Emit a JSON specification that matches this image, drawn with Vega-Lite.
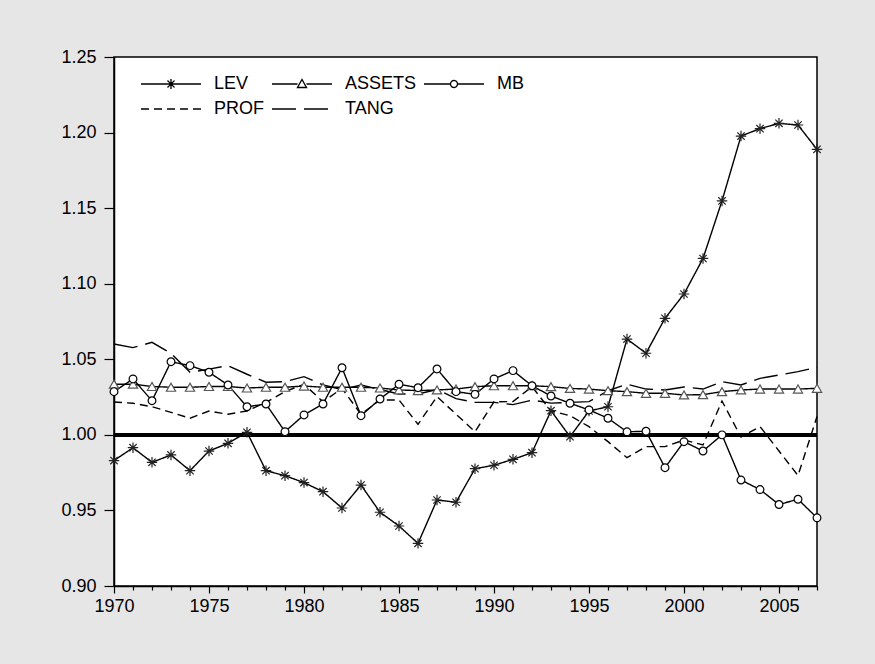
{
 "$schema": "https://vega.github.io/schema/vega-lite/v6.json",
 "width": 703, "height": 529,
 "autosize": {"type": "none"},
 "padding": {"left": 114, "top": 57, "right": 58, "bottom": 78},
 "background": "#e6e6e6",
 "config": {
  "view": {"fill": "white", "stroke": "black", "strokeWidth": 1.5},
  "font": "Liberation Sans",
  "axis": {"domainColor": "black", "domainWidth": 1.5, "tickColor": "black", "tickWidth": 1.2, "labelColor": "black", "labelFontSize": 18, "labelFont": "Liberation Sans", "grid": false, "title": null, "labelOverlap": false},
  "legend": {"labelFontSize": 18, "labelFont": "Liberation Sans", "labelColor": "black"}
 },
 "datasets": {
  "d": [
   {"year":1970,"series":"LEV","value":0.983},{"year":1971,"series":"LEV","value":0.9915},{"year":1972,"series":"LEV","value":0.9818},{"year":1973,"series":"LEV","value":0.9867},{"year":1974,"series":"LEV","value":0.9763},{"year":1975,"series":"LEV","value":0.9893},{"year":1976,"series":"LEV","value":0.9944},{"year":1977,"series":"LEV","value":1.0017},{"year":1978,"series":"LEV","value":0.9763},{"year":1979,"series":"LEV","value":0.973},{"year":1980,"series":"LEV","value":0.9684},{"year":1981,"series":"LEV","value":0.9624},{"year":1982,"series":"LEV","value":0.9516},{"year":1983,"series":"LEV","value":0.9668},{"year":1984,"series":"LEV","value":0.9488},{"year":1985,"series":"LEV","value":0.9397},{"year":1986,"series":"LEV","value":0.9282},{"year":1987,"series":"LEV","value":0.9569},{"year":1988,"series":"LEV","value":0.9554},{"year":1989,"series":"LEV","value":0.9776},{"year":1990,"series":"LEV","value":0.9799},{"year":1991,"series":"LEV","value":0.9838},{"year":1992,"series":"LEV","value":0.9882},{"year":1993,"series":"LEV","value":1.016},{"year":1994,"series":"LEV","value":0.9988},{"year":1995,"series":"LEV","value":1.0158},{"year":1996,"series":"LEV","value":1.0186},{"year":1997,"series":"LEV","value":1.0634},{"year":1998,"series":"LEV","value":1.054},{"year":1999,"series":"LEV","value":1.0771},{"year":2000,"series":"LEV","value":1.0932},{"year":2001,"series":"LEV","value":1.1167},{"year":2002,"series":"LEV","value":1.1548},{"year":2003,"series":"LEV","value":1.1977},{"year":2004,"series":"LEV","value":1.2026},{"year":2005,"series":"LEV","value":1.2061},{"year":2006,"series":"LEV","value":1.205},{"year":2007,"series":"LEV","value":1.1889},
   {"year":1970,"series":"ASSETS","value":1.0335},{"year":1971,"series":"ASSETS","value":1.0335},{"year":1972,"series":"ASSETS","value":1.032},{"year":1973,"series":"ASSETS","value":1.0315},{"year":1974,"series":"ASSETS","value":1.0315},{"year":1975,"series":"ASSETS","value":1.032},{"year":1976,"series":"ASSETS","value":1.032},{"year":1977,"series":"ASSETS","value":1.031},{"year":1978,"series":"ASSETS","value":1.0315},{"year":1979,"series":"ASSETS","value":1.0315},{"year":1980,"series":"ASSETS","value":1.0323},{"year":1981,"series":"ASSETS","value":1.0315},{"year":1982,"series":"ASSETS","value":1.0315},{"year":1983,"series":"ASSETS","value":1.0315},{"year":1984,"series":"ASSETS","value":1.031},{"year":1985,"series":"ASSETS","value":1.0297},{"year":1986,"series":"ASSETS","value":1.0293},{"year":1987,"series":"ASSETS","value":1.0297},{"year":1988,"series":"ASSETS","value":1.0303},{"year":1989,"series":"ASSETS","value":1.0319},{"year":1990,"series":"ASSETS","value":1.0325},{"year":1991,"series":"ASSETS","value":1.0325},{"year":1992,"series":"ASSETS","value":1.0325},{"year":1993,"series":"ASSETS","value":1.0319},{"year":1994,"series":"ASSETS","value":1.0307},{"year":1995,"series":"ASSETS","value":1.0303},{"year":1996,"series":"ASSETS","value":1.0292},{"year":1997,"series":"ASSETS","value":1.0286},{"year":1998,"series":"ASSETS","value":1.0275},{"year":1999,"series":"ASSETS","value":1.0275},{"year":2000,"series":"ASSETS","value":1.0264},{"year":2001,"series":"ASSETS","value":1.0266},{"year":2002,"series":"ASSETS","value":1.0286},{"year":2003,"series":"ASSETS","value":1.0297},{"year":2004,"series":"ASSETS","value":1.0303},{"year":2005,"series":"ASSETS","value":1.0303},{"year":2006,"series":"ASSETS","value":1.0303},{"year":2007,"series":"ASSETS","value":1.0308},
   {"year":1970,"series":"MB","value":1.0286},{"year":1971,"series":"MB","value":1.037},{"year":1972,"series":"MB","value":1.0226},{"year":1973,"series":"MB","value":1.0484},{"year":1974,"series":"MB","value":1.0458},{"year":1975,"series":"MB","value":1.0414},{"year":1976,"series":"MB","value":1.033},{"year":1977,"series":"MB","value":1.0186},{"year":1978,"series":"MB","value":1.0204},{"year":1979,"series":"MB","value":1.0021},{"year":1980,"series":"MB","value":1.0132},{"year":1981,"series":"MB","value":1.0204},{"year":1982,"series":"MB","value":1.0444},{"year":1983,"series":"MB","value":1.0127},{"year":1984,"series":"MB","value":1.0237},{"year":1985,"series":"MB","value":1.0335},{"year":1986,"series":"MB","value":1.0312},{"year":1987,"series":"MB","value":1.0436},{"year":1988,"series":"MB","value":1.0286},{"year":1989,"series":"MB","value":1.0268},{"year":1990,"series":"MB","value":1.037},{"year":1991,"series":"MB","value":1.0425},{"year":1992,"series":"MB","value":1.0325},{"year":1993,"series":"MB","value":1.0257},{"year":1994,"series":"MB","value":1.0209},{"year":1995,"series":"MB","value":1.0165},{"year":1996,"series":"MB","value":1.011},{"year":1997,"series":"MB","value":1.002},{"year":1998,"series":"MB","value":1.0024},{"year":1999,"series":"MB","value":0.9783},{"year":2000,"series":"MB","value":0.9955},{"year":2001,"series":"MB","value":0.9893},{"year":2002,"series":"MB","value":1.0},{"year":2003,"series":"MB","value":0.9701},{"year":2004,"series":"MB","value":0.9638},{"year":2005,"series":"MB","value":0.9539},{"year":2006,"series":"MB","value":0.9574},{"year":2007,"series":"MB","value":0.9451},
   {"year":1970,"series":"PROF","value":1.0217},{"year":1971,"series":"PROF","value":1.0209},{"year":1972,"series":"PROF","value":1.0186},{"year":1973,"series":"PROF","value":1.0149},{"year":1974,"series":"PROF","value":1.011},{"year":1975,"series":"PROF","value":1.0158},{"year":1976,"series":"PROF","value":1.0136},{"year":1977,"series":"PROF","value":1.0158},{"year":1978,"series":"PROF","value":1.0215},{"year":1979,"series":"PROF","value":1.0286},{"year":1980,"series":"PROF","value":1.0335},{"year":1981,"series":"PROF","value":1.0219},{"year":1982,"series":"PROF","value":1.0308},{"year":1983,"series":"PROF","value":1.0136},{"year":1984,"series":"PROF","value":1.0231},{"year":1985,"series":"PROF","value":1.0231},{"year":1986,"series":"PROF","value":1.007},{"year":1987,"series":"PROF","value":1.0253},{"year":1988,"series":"PROF","value":1.0137},{"year":1989,"series":"PROF","value":1.0021},{"year":1990,"series":"PROF","value":1.0219},{"year":1991,"series":"PROF","value":1.022},{"year":1992,"series":"PROF","value":1.0319},{"year":1993,"series":"PROF","value":1.0158},{"year":1994,"series":"PROF","value":1.0127},{"year":1995,"series":"PROF","value":1.0054},{"year":1996,"series":"PROF","value":0.9955},{"year":1997,"series":"PROF","value":0.9849},{"year":1998,"series":"PROF","value":0.9922},{"year":1999,"series":"PROF","value":0.9922},{"year":2000,"series":"PROF","value":0.9966},{"year":2001,"series":"PROF","value":0.9933},{"year":2002,"series":"PROF","value":1.0224},{"year":2003,"series":"PROF","value":0.9985},{"year":2004,"series":"PROF","value":1.0055},{"year":2005,"series":"PROF","value":0.9893},{"year":2006,"series":"PROF","value":0.9731},{"year":2007,"series":"PROF","value":1.0121},
   {"year":1970,"series":"TANG","value":1.0601},{"year":1971,"series":"TANG","value":1.0577},{"year":1972,"series":"TANG","value":1.0612},{"year":1973,"series":"TANG","value":1.054},{"year":1974,"series":"TANG","value":1.0414},{"year":1975,"series":"TANG","value":1.0435},{"year":1976,"series":"TANG","value":1.0458},{"year":1977,"series":"TANG","value":1.0401},{"year":1978,"series":"TANG","value":1.0348},{"year":1979,"series":"TANG","value":1.0352},{"year":1980,"series":"TANG","value":1.0385},{"year":1981,"series":"TANG","value":1.033},{"year":1982,"series":"TANG","value":1.03},{"year":1983,"series":"TANG","value":1.033},{"year":1984,"series":"TANG","value":1.03},{"year":1985,"series":"TANG","value":1.027},{"year":1986,"series":"TANG","value":1.027},{"year":1987,"series":"TANG","value":1.03},{"year":1988,"series":"TANG","value":1.024},{"year":1989,"series":"TANG","value":1.0215},{"year":1990,"series":"TANG","value":1.0215},{"year":1991,"series":"TANG","value":1.02},{"year":1992,"series":"TANG","value":1.023},{"year":1993,"series":"TANG","value":1.021},{"year":1994,"series":"TANG","value":1.0215},{"year":1995,"series":"TANG","value":1.022},{"year":1996,"series":"TANG","value":1.0292},{"year":1997,"series":"TANG","value":1.0335},{"year":1998,"series":"TANG","value":1.0303},{"year":1999,"series":"TANG","value":1.0297},{"year":2000,"series":"TANG","value":1.0317},{"year":2001,"series":"TANG","value":1.0303},{"year":2002,"series":"TANG","value":1.0352},{"year":2003,"series":"TANG","value":1.033},{"year":2004,"series":"TANG","value":1.0374},{"year":2005,"series":"TANG","value":1.0396},{"year":2006,"series":"TANG","value":1.0418},{"year":2007,"series":"TANG","value":1.0447}
  ]
 },
 "data": {"name": "d"},
 "layer": [
  {
   "mark": {"type": "rule", "color": "black", "strokeWidth": 3},
   "encoding": {"y": {"datum": 1, "type": "quantitative", "scale": {"domain": [0.9, 1.25], "nice": false, "zero": false}}}
  },
  {
   "mark": {"type": "line", "color": "black", "strokeWidth": 1.4},
   "encoding": {
    "x": {"field": "year", "type": "quantitative", "scale": {"domain": [1970, 2007], "nice": false, "zero": false},
     "axis": {"values": [1970,1971,1972,1973,1974,1975,1976,1977,1978,1979,1980,1981,1982,1983,1984,1985,1986,1987,1988,1989,1990,1991,1992,1993,1994,1995,1996,1997,1998,1999,2000,2001,2002,2003,2004,2005,2006,2007],
      "labelExpr": "datum.value % 5 === 0 ? format(datum.value, 'd') : ''",
      "tickSize": {"condition": {"test": "datum.value % 5 === 0", "value": 7}, "value": 4},
      "labelPadding": 4, "labelOverlap": false, "labelFlush": false}},
    "y": {"field": "value", "type": "quantitative", "scale": {"domain": [0.9, 1.25], "nice": false, "zero": false},
     "axis": {"values": [0.9, 0.95, 1.0, 1.05, 1.1, 1.15, 1.2, 1.25], "format": ".2f", "tickSize": 10, "labelPadding": 8, "labelOverlap": false}},
    "strokeDash": {"field": "series", "type": "nominal",
     "scale": {"domain": ["LEV", "ASSETS", "MB", "PROF", "TANG"], "range": [[1, 0], [1, 0], [1, 0], [8, 5], [24, 8]]},
     "legend": {"title": null, "orient": "none", "legendX": 48, "legendY": 18, "direction": "horizontal", "columns": 3, "padding": 0,
      "symbolSize": 100, "labelOffset": 34, "rowPadding": 7, "columnPadding": 4,
      "labelExpr": "datum.label === 'ASSETS' ? 'ASSETS\u00a0\u00a0\u00a0\u00a0\u00a0\u00a0\u00a0\u00a0' : datum.label",
      "symbolStrokeWidth": 1.3, "symbolStrokeColor": "black", "symbolFillColor": "white",
      "encode": {"symbols": {"update": {"shape": [
        {"test": "datum.value === 'LEV'", "value": "M-6,0H6M-1,0H1M0,-1V1M-0.7,-0.7L0.7,0.7M-0.7,0.7L0.7,-0.7"},
        {"test": "datum.value === 'ASSETS'", "value": "M-6,0H-0.9M0.9,0H6M0,-0.9L0.9,0.7L-0.9,0.7Z"},
        {"test": "datum.value === 'MB'", "value": "M-6,0H-0.7M0.7,0H6M0.7,0A0.7,0.7 0 1,1 -0.7,0A0.7,0.7 0 1,1 0.7,0Z"},
        {"value": "M-6,0H6"}
       ]}}}}}
   }
  },
  {
   "transform": [{"filter": {"field": "series", "oneOf": ["LEV", "ASSETS", "MB"]}}],
   "mark": {"type": "point", "filled": false, "fill": "white", "strokeWidth": 1.2, "opacity": 1},
   "encoding": {
    "x": {"field": "year", "type": "quantitative", "scale": {"domain": [1970, 2007], "nice": false, "zero": false},
     "axis": {"values": [1970,1971,1972,1973,1974,1975,1976,1977,1978,1979,1980,1981,1982,1983,1984,1985,1986,1987,1988,1989,1990,1991,1992,1993,1994,1995,1996,1997,1998,1999,2000,2001,2002,2003,2004,2005,2006,2007],
      "labelExpr": "datum.value % 5 === 0 ? format(datum.value, 'd') : ''",
      "tickSize": {"condition": {"test": "datum.value % 5 === 0", "value": 7}, "value": 4},
      "labelPadding": 4, "labelOverlap": false, "labelFlush": false}},
    "y": {"field": "value", "type": "quantitative", "scale": {"domain": [0.9, 1.25], "nice": false, "zero": false},
     "axis": {"values": [0.9, 0.95, 1.0, 1.05, 1.1, 1.15, 1.2, 1.25], "format": ".2f", "tickSize": 10, "labelPadding": 8, "labelOverlap": false}},
    "shape": {"field": "series", "type": "nominal", "scale": {"domain": ["LEV", "ASSETS", "MB"], "range": ["M-1,0H1M0,-1V1M-0.7,-0.7L0.7,0.7M-0.7,0.7L0.7,-0.7", "triangle-up", "circle"]}, "legend": null},
    "size": {"field": "series", "type": "nominal", "scale": {"domain": ["LEV", "ASSETS", "MB"], "range": [110, 60, 42]}, "legend": null},
    "stroke": {"field": "series", "type": "nominal", "scale": {"domain": ["LEV", "ASSETS", "MB"], "range": ["#222222", "#555555", "#000000"]}, "legend": null}
   }
  }
 ]
}
